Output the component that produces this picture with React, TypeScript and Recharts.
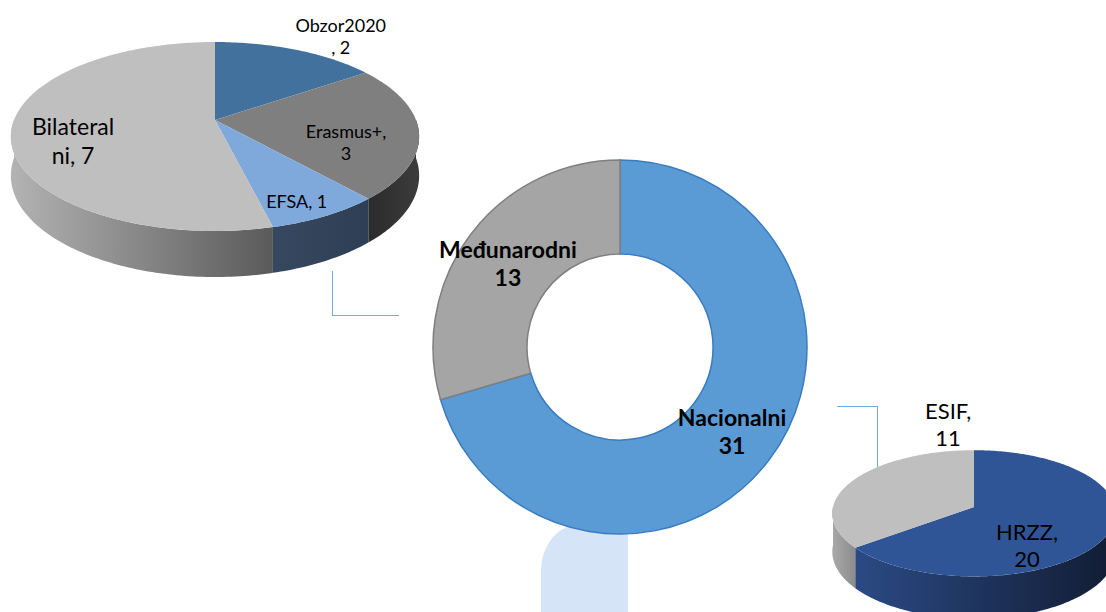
import { Pie, PieChart } from "recharts";

// Ring: national vs international projects
const RING_NAMES = ["Nacionalni", "Međunarodni"];
const RING_VALUES = [31, 13];

// Breakdown of international projects
const INTL_NAMES = ["Obzor2020", "Erasmus+", "EFSA", "Bilateralni"];
const INTL_VALUES = [2, 3, 1, 7];

// Breakdown of national projects
const NAT_NAMES = ["HRZZ", "ESIF"];
const NAT_VALUES = [20, 11];

// styles
const RING_FILL = ["#5B9BD5", "#A5A5A5"];
const RING_STROKE = ["#3A7CC0", "#7F7F7F"];
const INTL_TOP = ["#41719C", "#7F7F7F", "#7EA9DA", "#BFBFBF"];
const INTL_SIDE = [
  ["#2E5073", "#24405E"],
  ["#2B2B2B", "#3C3C3C"],
  ["#36485F", "#2E3E55"],
  ["#B3B3B3", "#5A5A5A"],
];
const NAT_TOP = ["#2F5597", "#BFBFBF"];
const NAT_SIDE = [
  ["#2B4A84", "#111C33"],
  ["#A9A9A9", "#8C8C8C"],
];

// label placement (fraction of radius, angle nudge in degrees, font size)
const INTL_LABEL_R = [1.322, 0.667, 0.843, 0.713];
const INTL_LABEL_TURN = [-6.6, -13.3, -3, 10.7];
const INTL_LABEL_SIZE = [18, 18, 18, 23];
const NAT_LABEL_R = [0.674, 1.545];
const NAT_LABEL_TURN = [-32.2, -56];
const NAT_LABEL_SIZE = [22, 22];

const FONT = "Lato, 'Open Sans', sans-serif";
const RAD = Math.PI / 180;

const rows = (names: string[], values: number[], fills: string[]) =>
  names.map((name, i) => ({ name, value: values[i], fill: fills[i] }));

function wrap(text: string, max: number): string[] {
  const lines: string[] = [];
  let cur = "";
  for (const word of text.split(" ")) {
    let w = word;
    const cand = cur ? cur + " " + w : w;
    if (cand.length <= max) {
      cur = cand;
      continue;
    }
    if (cur) {
      lines.push(cur);
      cur = "";
    }
    while (w.length > max) {
      lines.push(w.slice(0, max));
      w = w.slice(max);
    }
    cur = w;
  }
  if (cur) lines.push(cur);
  return lines;
}

function Lines({ x, y, lines, size, bold }: { x: number; y: number; lines: string[]; size: number; bold?: boolean }) {
  const lh = size * 1.25;
  return (
    <text x={x} y={y} textAnchor="middle" fontFamily={FONT} fontSize={size} fontWeight={bold ? 700 : 400} fill="#000">
      {lines.map((l, i) => (
        <tspan key={i} x={x} y={y + (i - (lines.length - 1) / 2) * lh} dominantBaseline="central">
          {l}
        </tspan>
      ))}
    </text>
  );
}

// tilted disc seen in perspective: k = vertical squash, p = foreshortening of the back
type Tilt = { k: number; p: number; depth: number };

function project(cx: number, cy: number, R: number, t: Tilt, r: number, deg: number, drop = 0) {
  const u = r * Math.cos(deg * RAD);
  const v = r * Math.sin(deg * RAD);
  const w = 1 + t.p * v;
  return [cx + (R * u) / w, cy - (R * t.k * v) / w + drop / w];
}

function arcPts(cx: number, cy: number, R: number, t: Tilt, from: number, to: number, drop = 0) {
  const n = Math.max(2, Math.ceil(Math.abs(to - from)));
  const pts: string[] = [];
  for (let s = 0; s <= n; s++) {
    const [x, y] = project(cx, cy, R, t, 1, from + ((to - from) * s) / n, drop);
    pts.push(`${x.toFixed(2)},${y.toFixed(2)}`);
  }
  return pts;
}

function slice3D(id: string, names: string[], t: Tilt, sides: string[][]) {
  return (props: any) => {
    const { cx, cy, outerRadius: R, startAngle, endAngle, fill } = props;
    const name = props.name ?? props.payload?.name;
    const i = Math.max(0, names.indexOf(name));
    const top = `M${cx},${cy} L${arcPts(cx, cy, R, t, startAngle, endAngle).join(" L")} Z`;

    const lo = Math.min(startAngle, endAngle);
    const hi = Math.max(startAngle, endAngle);
    const walls: string[] = [];
    for (let m = -2; m <= 2; m++) {
      const a1 = Math.max(lo, -180 + 360 * m);
      const a2 = Math.min(hi, 360 * m);
      if (a2 - a1 > 0.01) {
        const upper = arcPts(cx, cy, R, t, a2, a1);
        const lower = arcPts(cx, cy, R, t, a1, a2, t.depth);
        walls.push(`M${upper.join(" L")} L${lower.join(" L")} Z`);
      }
    }
    const gid = `${id}-side-${i}`;
    return (
      <g>
        <defs>
          <linearGradient id={gid} x1="0" y1="0" x2="1" y2="0">
            <stop offset="0%" stopColor={sides[i][0]} />
            <stop offset="100%" stopColor={sides[i][1]} />
          </linearGradient>
        </defs>
        {walls.map((d, j) => (
          <path key={j} d={d} fill={`url(#${gid})`} stroke="none" />
        ))}
        <path d={top} fill={fill} stroke="none" />
      </g>
    );
  };
}

function label3D(names: string[], t: Tilt, rs: number[], turns: number[], sizes: number[], maxChars: number) {
  return (props: any) => {
    const { cx, cy, midAngle, outerRadius, name, value } = props;
    const i = Math.max(0, names.indexOf(name));
    const [x, y] = project(cx, cy, outerRadius, t, rs[i], midAngle + turns[i]);
    return <Lines key={name} x={x} y={y} lines={wrap(`${name}, ${value}`, maxChars)} size={sizes[i]} />;
  };
}

function ringLabel(props: any) {
  const { cx, cy, midAngle, innerRadius, outerRadius, name, value } = props;
  const r = (innerRadius + outerRadius) / 2;
  const x = cx + r * Math.cos(midAngle * RAD);
  const y = cy - r * Math.sin(midAngle * RAD);
  return <Lines key={name} x={x} y={y} lines={[name, String(value)]} size={23} bold />;
}

const INTL_TILT: Tilt = { k: 0.4557, p: 0.1746, depth: 38 };
const NAT_TILT: Tilt = { k: 0.443, p: 0.1, depth: 38 };
const intlShape = slice3D("intl", INTL_NAMES, INTL_TILT, INTL_SIDE);
const natShape = slice3D("nat", NAT_NAMES, NAT_TILT, NAT_SIDE);

export default function App() {
  const ringData = RING_NAMES.map((name, i) => ({
    name,
    value: RING_VALUES[i],
    fill: RING_FILL[i],
    stroke: RING_STROKE[i],
  }));
  const intlData = rows(INTL_NAMES, INTL_VALUES, INTL_TOP);
  const natData = rows(NAT_NAMES, NAT_VALUES, NAT_TOP);

  return (
    <div style={{ position: "absolute", left: 0, top: 0, width: 1106, height: 612, background: "#fff", overflow: "hidden" }}>
      {/* pale backdrop tab behind the ring */}
      <div
        style={{
          position: "absolute",
          left: 541,
          top: 524,
          width: 87,
          height: 100,
          background: "#D6E4F7",
          borderTopLeftRadius: "40px 46px",
        }}
      />
      {/* connectors */}
      <div
        style={{
          position: "absolute",
          left: 332,
          top: 271,
          width: 66,
          height: 44,
          borderLeft: "1.5px solid #7AAADD",
          borderBottom: "1.5px solid #7AAADD",
        }}
      />
      <div
        style={{
          position: "absolute",
          left: 837,
          top: 406,
          width: 40,
          height: 62,
          borderTop: "1.5px solid #7AAADD",
          borderRight: "1.5px solid #7AAADD",
        }}
      />
      <div style={{ position: "absolute", left: 0, top: 0 }}>
        <PieChart width={1106} height={612} margin={{ top: 0, right: 0, bottom: 0, left: 0 }}>
          <Pie
            data={intlData}
            dataKey="value"
            nameKey="name"
            cx={215}
            cy={120}
            outerRadius={201}
            startAngle={90}
            endAngle={-270}
            stroke="none"
            labelLine={false}
            label={label3D(INTL_NAMES, INTL_TILT, INTL_LABEL_R, INTL_LABEL_TURN, INTL_LABEL_SIZE, 9)}
            shape={intlShape}
            activeShape={intlShape}
            inactiveShape={intlShape}
            isAnimationActive={false}
          />
          <Pie
            data={natData}
            dataKey="value"
            nameKey="name"
            cx={974}
            cy={507}
            outerRadius={141}
            startAngle={90}
            endAngle={-270}
            stroke="none"
            labelLine={false}
            label={label3D(NAT_NAMES, NAT_TILT, NAT_LABEL_R, NAT_LABEL_TURN, NAT_LABEL_SIZE, 6)}
            shape={natShape}
            activeShape={natShape}
            inactiveShape={natShape}
            isAnimationActive={false}
          />
          <Pie
            data={ringData}
            dataKey="value"
            nameKey="name"
            cx={620}
            cy={347}
            innerRadius={93}
            outerRadius={187}
            startAngle={90}
            endAngle={-270}
            strokeWidth={1.5}
            labelLine={false}
            label={ringLabel}
            isAnimationActive={false}
          />
        </PieChart>
      </div>
    </div>
  );
}
